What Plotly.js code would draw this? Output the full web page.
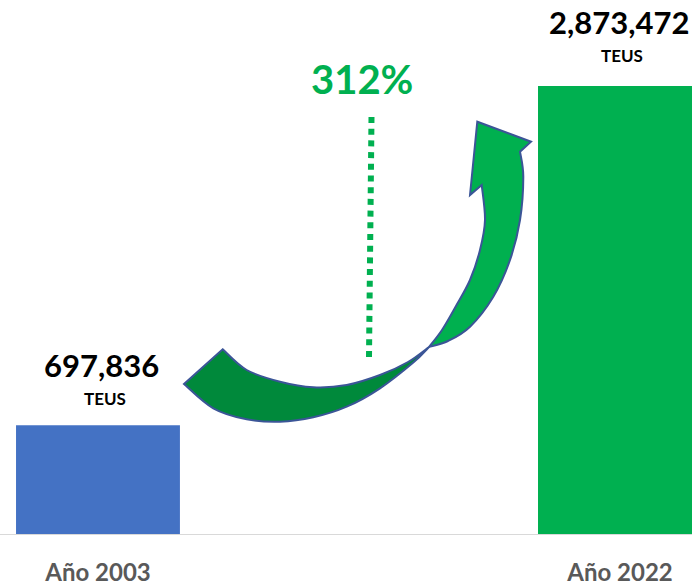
<!DOCTYPE html>
<html>
<head>
<meta charset="utf-8">
<script src="https://cdn.plot.ly/plotly-3.0.1.min.js"></script>
<style>
  html, body { margin: 0; padding: 0; background: #ffffff; }
  #chart { width: 692px; height: 587px; }
</style>
</head>
<body>
<div id="chart"></div>
<script>
// ---- data ----
const categories = ['Año 2003', 'Año 2022'];
const teus = [697836, 2873472];
const valueLabels = ['697,836', '2,873,472'];
const unitLabel = 'TEUS';
const growthLabel = '312%';
const barColors = ['#4472c4', '#00b050'];

// ---- layout helpers (decorative arrow drawn in pixel space -> paper) ----
const W = 692, H = 587, MB = 53;
const PH = H - MB;
function px(x, y) { return [(x / W), ((PH - y) / PH)]; }
function fmt(p) { const q = px(p[0], p[1]); return q[0].toFixed(5) + ',' + q[1].toFixed(5); }
function smooth(pts) {
  let s = '';
  for (let i = 0; i < pts.length - 1; i++) {
    const p0 = pts[i - 1] || pts[i], p1 = pts[i], p2 = pts[i + 1], p3 = pts[i + 2] || pts[i + 1];
    const c1 = [p1[0] + (p2[0] - p0[0]) / 6, p1[1] + (p2[1] - p0[1]) / 6];
    const c2 = [p2[0] - (p3[0] - p1[0]) / 6, p2[1] - (p3[1] - p1[1]) / 6];
    s += ' C' + fmt(c1) + ' ' + fmt(c2) + ' ' + fmt(p2);
  }
  return s;
}
const C = [429, 347];
const backInner = [[222.7, 349.3], [246.7, 370], [280, 381.7], [313.3, 387.3], [346.7, 385], [380, 375], [408, 362], C];
const backOuter = [C, [413.3, 362.5], [380, 388.3], [346.7, 406.7], [313.3, 417.3], [280, 421.7], [246.7, 419.3], [213.3, 408.3], [184, 384]];
const backPath = 'M' + fmt(backInner[0]) + smooth(backInner) + smooth(backOuter) + ' Z';

const frontLeft = [C, [442, 330], [456, 306], [470, 280], [480, 250], [485, 220], [481.7, 185]];
const head = [[470, 195], [477.3, 121.7], [531, 141.7], [520, 151.7]];
const frontRight = [[520, 151.7], [523.3, 176.7], [520, 220], [510, 260], [493.3, 296.7], [470, 326.7], [448, 341], C];
const frontPath = 'M' + fmt(C) + smooth(frontLeft) + head.map(p => ' L' + fmt(p)).join('') + smooth(frontRight) + ' Z';

const dotA = px(371.5, 117), dotB = px(369, 357);

const data = [{
  type: 'bar',
  x: categories,
  y: teus,
  width: 0.314,
  marker: { color: barColors, line: { width: 0 } },
  hoverinfo: 'none'
}];

const font = 'Lato, "Open Sans", "DejaVu Sans", sans-serif';
const annotations = [];
const valShift = [60, 64];
const unitShift = [27, 31];
categories.forEach((c, i) => {
  annotations.push({
    x: c, y: teus[i], xref: 'x', yref: 'y', xanchor: 'center', yanchor: 'middle',
    xshift: i === 0 ? 4 : -1, yshift: valShift[i], showarrow: false,
    text: '<b>' + valueLabels[i] + '</b>',
    font: { family: font, size: 31, color: '#000000' }
  });
  annotations.push({
    x: c, y: teus[i], xref: 'x', yref: 'y', xanchor: 'center', yanchor: 'middle',
    xshift: i === 0 ? 7 : 2, yshift: unitShift[i], showarrow: false,
    text: '<b>' + unitLabel + '</b>',
    font: { family: font, size: 17, color: '#000000' }
  });
});
annotations.push({
  x: px(362, 0)[0], y: px(0, 79)[1], xref: 'paper', yref: 'paper',
  xanchor: 'center', yanchor: 'middle', showarrow: false,
  text: '<b>' + growthLabel + '</b>',
  font: { family: font, size: 40, color: '#00b050' }
});

const layout = {
  width: W, height: H,
  margin: { l: 0, r: 0, t: 0, b: MB, pad: 0 },
  paper_bgcolor: '#ffffff', plot_bgcolor: '#ffffff',
  showlegend: false,
  xaxis: {
    type: 'category', range: [-0.1877, 1.138], automargin: false,
    showgrid: false, zeroline: false, showline: true, linecolor: '#d9d9d9', linewidth: 1,
    ticks: '', ticklabelstandoff: 17,
    tickfont: { family: font, size: 24, color: '#595959', weight: 'bold' },
    fixedrange: true
  },
  yaxis: {
    range: [0, 3425100], visible: false, showgrid: false, zeroline: false, fixedrange: true
  },
  shapes: [
    { type: 'line', xref: 'paper', yref: 'paper', x0: dotA[0], y0: dotA[1], x1: dotB[0], y1: dotB[1],
      line: { color: '#00b050', width: 6, dash: '6px,5.7px' } },
    { type: 'path', xref: 'paper', yref: 'paper', path: backPath, fillcolor: '#00893b',
      line: { color: '#3b5597', width: 2 } },
    { type: 'path', xref: 'paper', yref: 'paper', path: frontPath, fillcolor: '#00b04f',
      line: { color: '#3b5597', width: 2 } }
  ],
  annotations: annotations
};

Plotly.newPlot('chart', data, layout, { staticPlot: true, displayModeBar: false });
</script>
</body>
</html>
